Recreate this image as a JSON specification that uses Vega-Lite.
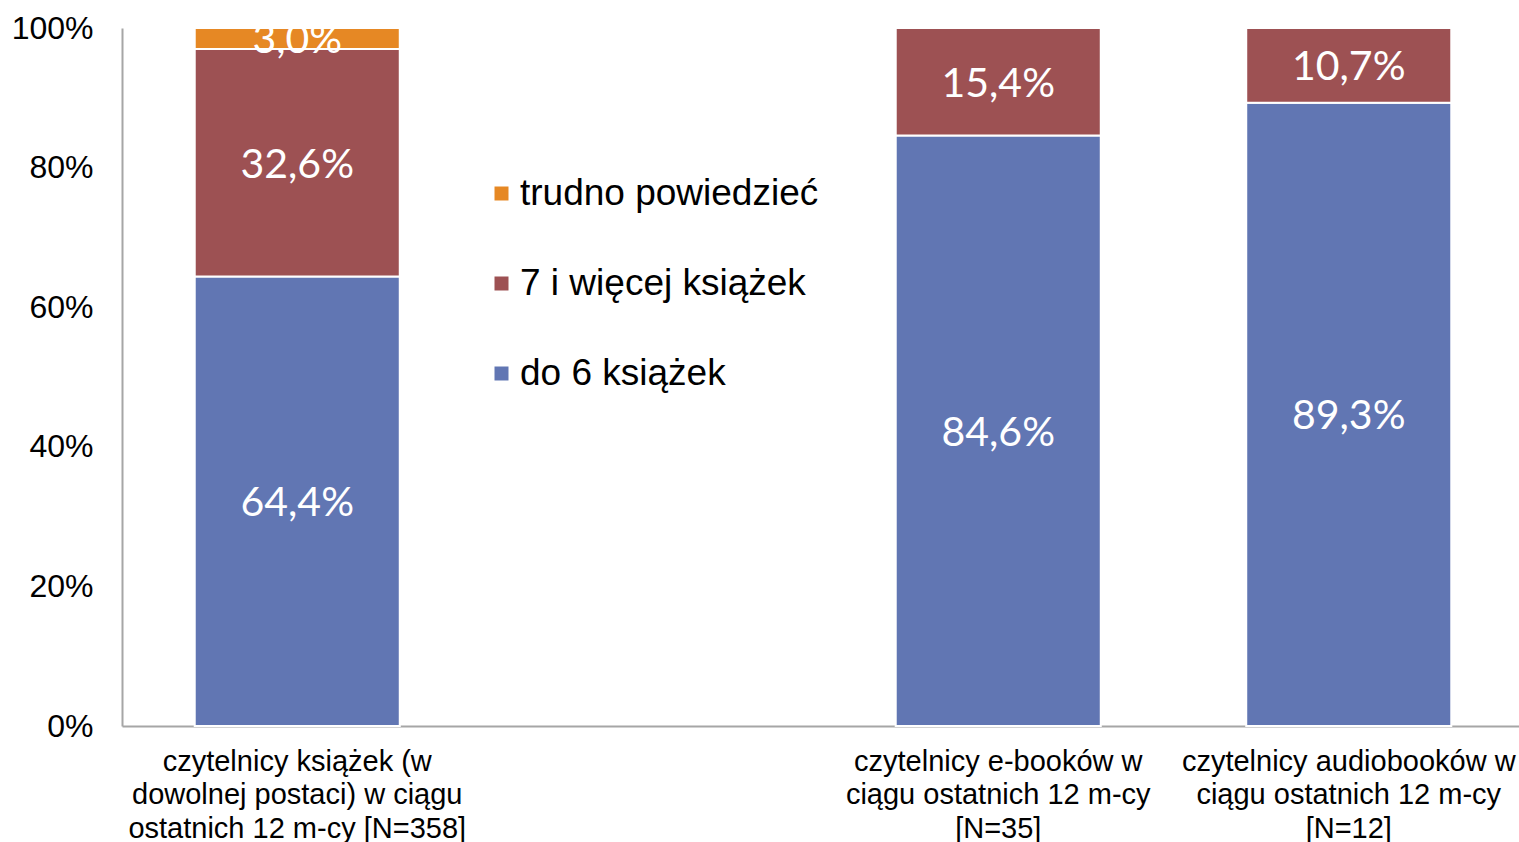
{
  "$schema": "https://vega.github.io/schema/vega-lite/v6.json",
  "width": 1402,
  "height": 698,
  "autosize": {"type": "none"},
  "padding": {"left": 122, "top": 28, "right": 0, "bottom": 116},
  "background": "white",
  "config": {"view": {"stroke": null}},
  "data": {
    "values": [
      {"grupa": "czytelnicy książek (w dowolnej postaci) w ciągu ostatnich 12 m-cy [N=358]", "kategoria": "do 6 książek", "procent": 64.4, "etykieta": "64,4%"},
      {"grupa": "czytelnicy książek (w dowolnej postaci) w ciągu ostatnich 12 m-cy [N=358]", "kategoria": "7 i więcej książek", "procent": 32.6, "etykieta": "32,6%"},
      {"grupa": "czytelnicy książek (w dowolnej postaci) w ciągu ostatnich 12 m-cy [N=358]", "kategoria": "trudno powiedzieć", "procent": 3.0, "etykieta": "3,0%"},
      {"grupa": "czytelnicy e-booków w ciągu ostatnich 12 m-cy [N=35]", "kategoria": "do 6 książek", "procent": 84.6, "etykieta": "84,6%"},
      {"grupa": "czytelnicy e-booków w ciągu ostatnich 12 m-cy [N=35]", "kategoria": "7 i więcej książek", "procent": 15.4, "etykieta": "15,4%"},
      {"grupa": "czytelnicy audiobooków w ciągu ostatnich 12 m-cy [N=12]", "kategoria": "do 6 książek", "procent": 89.3, "etykieta": "89,3%"},
      {"grupa": "czytelnicy audiobooków w ciągu ostatnich 12 m-cy [N=12]", "kategoria": "7 i więcej książek", "procent": 10.7, "etykieta": "10,7%"}
    ]
  },
  "encoding": {
    "x": {
      "field": "grupa",
      "type": "nominal",
      "scale": {
        "domain": [
          "czytelnicy książek (w dowolnej postaci) w ciągu ostatnich 12 m-cy [N=358]",
          " ",
          "czytelnicy e-booków w ciągu ostatnich 12 m-cy [N=35]",
          "czytelnicy audiobooków w ciągu ostatnich 12 m-cy [N=12]"
        ],
        "paddingInner": 0.415,
        "paddingOuter": 0.2075
      },
      "axis": {
        "title": null,
        "labelAngle": 0,
        "ticks": false,
        "domainColor": "#A6A6A6",
        "domainWidth": 2,
        "labelFont": "Liberation Sans",
        "labelFontSize": 29,
        "labelColor": "#000000",
        "labelLineHeight": 33.5,
        "labelPadding": 21,
        "labelLimit": 600,
        "labelBaseline": "top",
        "labelExpr": "datum.value == 'czytelnicy książek (w dowolnej postaci) w ciągu ostatnich 12 m-cy [N=358]' ? ['czytelnicy książek (w', 'dowolnej postaci) w ciągu', 'ostatnich 12 m-cy [N=358]'] : datum.value == 'czytelnicy e-booków w ciągu ostatnich 12 m-cy [N=35]' ? ['czytelnicy e-booków w', 'ciągu ostatnich 12 m-cy', '[N=35]'] : datum.value == 'czytelnicy audiobooków w ciągu ostatnich 12 m-cy [N=12]' ? ['czytelnicy audiobooków w', 'ciągu ostatnich 12 m-cy', '[N=12]'] : ''"
      }
    },
    "order": {"field": "procent", "type": "quantitative", "sort": "descending"}
  },
  "layer": [
    {
      "mark": {"type": "bar", "stroke": "white", "strokeWidth": 2},
      "encoding": {
        "y": {
          "field": "procent",
          "type": "quantitative",
          "stack": "zero",
          "scale": {"domain": [0, 100], "nice": false},
          "axis": {
            "title": null,
            "values": [0, 20, 40, 60, 80, 100],
            "labelExpr": "datum.value + '%'",
            "grid": false,
            "ticks": false,
            "domainColor": "#A6A6A6",
            "domainWidth": 2,
            "labelFont": "Liberation Sans",
            "labelFontSize": 32,
            "labelColor": "#000000",
            "labelPadding": 29
          }
        },
        "color": {
          "field": "kategoria",
          "type": "nominal",
          "scale": {
            "domain": ["do 6 książek", "7 i więcej książek", "trudno powiedzieć"],
            "range": ["#6176B3", "#9D5153", "#E68824"]
          },
          "legend": {
            "title": null,
            "values": ["trudno powiedzieć", "7 i więcej książek", "do 6 książek"],
            "orient": "none",
            "legendX": 361,
            "legendY": 147,
            "symbolType": "square",
            "symbolSize": 196,
            "symbolStrokeWidth": 0,
            "labelFont": "Liberation Sans",
            "labelFontSize": 37,
            "labelColor": "#000000",
            "labelOffset": 0,
            "rowPadding": 52,
            "labelLimit": 500
          }
        }
      }
    },
    {
      "mark": {"type": "text", "font": "Lato", "fontSize": 41, "color": "white", "baseline": "middle", "align": "center", "dy": 3},
      "encoding": {
        "y": {"field": "procent", "type": "quantitative", "stack": "zero", "bandPosition": 0.5},
        "detail": {"field": "kategoria"},
        "text": {"field": "etykieta"}
      }
    }
  ]
}
